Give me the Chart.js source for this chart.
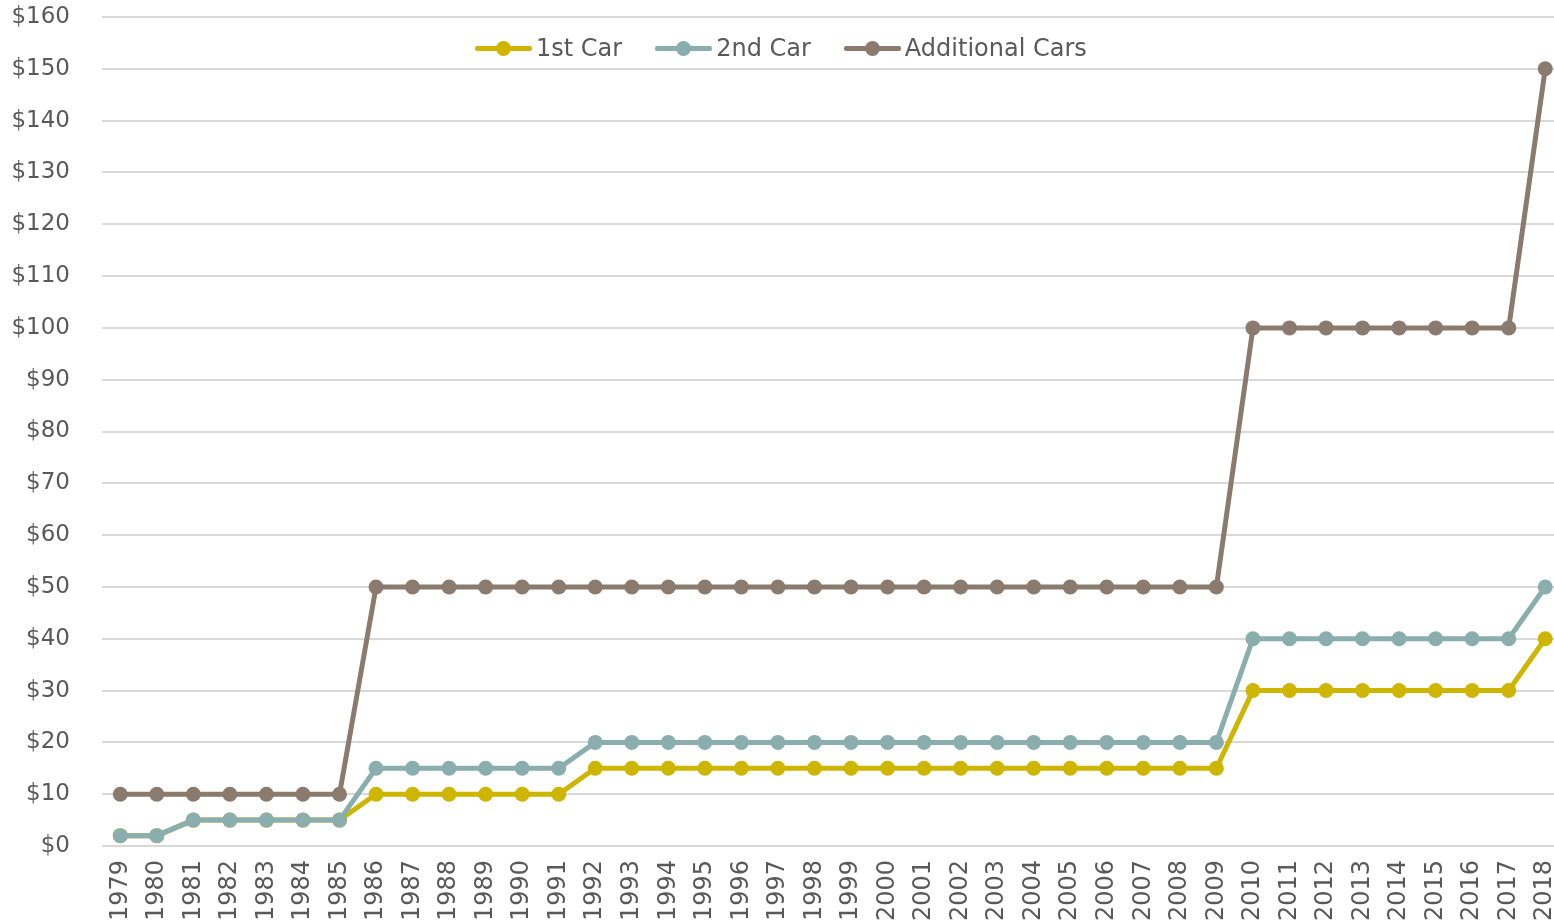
<!DOCTYPE html>
<html>
<head>
<meta charset="utf-8">
<script src="https://cdn.jsdelivr.net/npm/chart.js@4.4.1/dist/chart.umd.min.js"></script>
<style>
  html, body { margin: 0; padding: 0; background: #ffffff; overflow: hidden; }
  #wrap { position: relative; width: 1571px; height: 924px; }
  #legend { position: absolute; left: 475px; top: 34px; display: flex; gap: 33px; align-items: center;
            font-family: "DejaVu Sans", Verdana, sans-serif; font-size: 24px; color: #595959; }
  .item { display: flex; align-items: center; gap: 4px; }
  .sym { position: relative; width: 57px; height: 28px; }
  .sym .ln { position: absolute; left: 0; right: 0; top: 11.5px; height: 5px; border-radius: 2px; }
  .sym .dt { position: absolute; left: 21px; top: 6.5px; width: 15px; height: 15px; border-radius: 50%; }
</style>
</head>
<body>
<div id="wrap">
  <canvas id="c" width="1571" height="924"></canvas>
  <div id="legend"></div>
</div>
<script>
const years = ["1979","1980","1981","1982","1983","1984","1985","1986","1987","1988","1989","1990","1991","1992","1993","1994","1995","1996","1997","1998","1999","2000","2001","2002","2003","2004","2005","2006","2007","2008","2009","2010","2011","2012","2013","2014","2015","2016","2017","2018"];
const firstCar = [2,2,5,5,5,5,5,10,10,10,10,10,10,15,15,15,15,15,15,15,15,15,15,15,15,15,15,15,15,15,15,30,30,30,30,30,30,30,30,40];
const secondCar = [2,2,5,5,5,5,5,15,15,15,15,15,15,20,20,20,20,20,20,20,20,20,20,20,20,20,20,20,20,20,20,40,40,40,40,40,40,40,40,50];
const additionalCars = [10,10,10,10,10,10,10,50,50,50,50,50,50,50,50,50,50,50,50,50,50,50,50,50,50,50,50,50,50,50,50,100,100,100,100,100,100,100,100,150];
const seriesNames = ["1st Car", "2nd Car", "Additional Cars"];
const seriesColors = ["#CDB500", "#8AADAD", "#8B7A6E"];
const yMin = 0, yMax = 160, yStep = 10;

const FONT = "'DejaVu Sans', Verdana, sans-serif";
const mk = (i, data, order) => ({
  label: seriesNames[i], data, order,
  borderColor: seriesColors[i], backgroundColor: seriesColors[i],
  pointBackgroundColor: seriesColors[i], pointBorderColor: seriesColors[i],
  borderWidth: 5, pointRadius: 7.5, pointHoverRadius: 7.5, pointBorderWidth: 0,
  tension: 0, fill: false
});

new Chart(document.getElementById('c'), {
  type: 'line',
  data: {
    labels: years,
    datasets: [mk(0, firstCar, 3), mk(1, secondCar, 2), mk(2, additionalCars, 1)]
  },
  options: {
    responsive: false,
    animation: false,
    layout: { padding: { top: 17, right: 0, left: 0, bottom: 0 } },
    plugins: { legend: { display: false }, tooltip: { enabled: false } },
    scales: {
      x: {
        offset: true,
        grid: { display: false, drawTicks: false },
        border: { display: false },
        ticks: { color: '#595959', font: { family: FONT, size: 24 }, minRotation: 90, maxRotation: 90, padding: 14, autoSkip: false },
        afterFit: (s) => { s.height = 78; s.paddingLeft = 0; s.paddingRight = 0; }
      },
      y: {
        min: yMin, max: yMax,
        grid: { color: '#d9d9d9', lineWidth: 2, drawTicks: false },
        border: { display: false },
        ticks: { stepSize: yStep, color: '#595959', font: { family: FONT, size: 23 }, padding: 32,
                 callback: (v) => '$' + v },
        afterFit: (s) => { s.width = 102; s.paddingTop = 0; s.paddingBottom = 0; }
      }
    }
  }
});

const lg = document.getElementById('legend');
seriesNames.forEach((n, i) => {
  const it = document.createElement('div'); it.className = 'item';
  it.innerHTML = '<div class="sym"><div class="ln" style="background:' + seriesColors[i] + '"></div><div class="dt" style="background:' + seriesColors[i] + '"></div></div><span>' + n + '</span>';
  lg.appendChild(it);
});
</script>
</body>
</html>
